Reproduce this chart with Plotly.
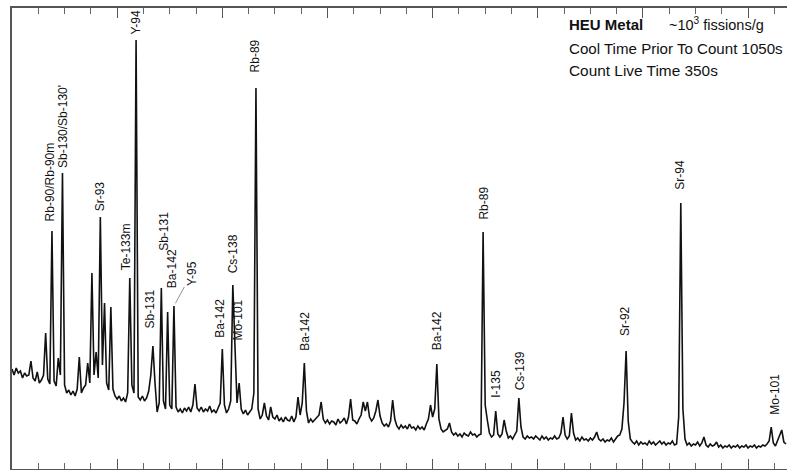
import numpy as np
import plotly.graph_objects as go

# Gamma-ray spectrum of HEU metal, 2 keV channels starting at 800 keV
start_kev = 800
channel_kev = 2
counts = [
    500, 470, 505, 480, 490, 455, 480, 465, 470, 540,
    455, 440, 485, 430, 445, 470, 680, 450, 425, 1190,
    440, 415, 555, 470, 1480, 420, 380, 395, 370, 390,
    365, 400, 560, 380, 405, 420, 530, 430, 980, 470,
    585, 455, 1260, 520, 830, 430, 395, 810, 400, 365,
    350, 365, 340, 355, 335, 380, 955, 420, 380, 2145,
    360, 345, 365, 340, 355, 390, 470, 615, 430, 285,
    330, 905, 340, 300, 785, 320, 300, 815, 310, 285,
    300, 280, 305, 290, 310, 285, 320, 425, 305, 290,
    310, 285, 300, 290, 315, 285, 295, 280, 305, 330,
    600, 320, 280, 300, 340, 920, 620, 330, 430, 300,
    275, 295, 270, 285, 300, 380, 1905, 300, 250, 270,
    330, 265, 245, 310, 260, 250, 270, 240, 255, 235,
    260, 245, 240, 265, 235, 260, 360, 270, 330, 530,
    290, 230, 250, 235, 245, 255, 270, 335, 250, 230,
    245, 225, 240, 235, 220, 250, 230, 240, 255, 225,
    260, 350, 245, 240, 225, 250, 270, 335, 290, 335,
    260, 240, 255, 290, 345, 265, 230, 215, 225, 210,
    240, 345, 250, 215, 200, 220, 205, 215, 200, 225,
    205, 210, 195, 215, 200, 210, 195, 225, 250, 320,
    260, 300, 525, 250, 200, 185, 195, 200, 230, 185,
    170, 180, 165, 175, 160, 180, 170, 165, 185, 170,
    175, 160, 170, 175, 1185, 320, 245, 180, 160, 170,
    290, 175, 160, 175, 245, 190, 155, 165, 150, 170,
    190, 355, 210, 160, 150, 165, 155, 160, 150, 165,
    155, 145, 165, 150, 160, 145, 155, 150, 165, 150,
    155, 180, 260, 170, 150, 165, 280, 180, 145, 155,
    140, 160, 145, 150, 140, 155, 145, 160, 185, 150,
    140, 150, 135, 145, 140, 155, 135, 150, 165, 170,
    200, 330, 590, 240, 150, 135, 125, 140, 120, 135,
    125, 130, 120, 140, 125, 135, 120, 130, 140, 125,
    135, 120, 130, 125, 140, 120, 125, 260, 1330, 300,
    150, 120, 130, 115, 125, 120, 135, 115, 130, 160,
    120, 110, 125, 115, 120, 135, 110, 120, 105, 115,
    110, 120, 105, 115, 110, 120, 105, 115, 110, 120,
    105, 115, 110, 120, 105, 115, 110, 120, 115, 125,
    140, 210, 130, 115, 140, 170, 195, 135, 125,
]
energies = start_kev + channel_kev * np.arange(len(counts))

# Identified peaks
peak_names = [
    "Rb-90/Rb-90m", "Sb-130/Sb-130'", "Sr-93", "Te-133m", "Y-94",
    "Sb-131", "Sb-131", "Ba-142", "Y-95", "Ba-142", "Cs-138", "Mo-101",
    "Rb-89", "Ba-142", "Ba-142", "Rb-89", "I-135", "Cs-139", "Sr-92",
    "Sr-94", "Mo-101",
]
peak_energies = [
    838, 848, 884, 912, 918, 934, 942, 948, 954, 1000, 1010, 1012,
    1032, 1078, 1204, 1248, 1260, 1282, 1384, 1436, 1522,
]

# Label placement: lift above the peak top and sideways nudge (px)
label_lift = [8, 3, 4, 6, 3, 16, 35, 22, 0, 9, 10, 3, 14, 10, 12, 10, 11, 6, 13, 11, 10]
label_dx = [-2, 0, 0, -4, -1, -3, 2, 4, 0, -3, 0, 3, -1, 0, 0, 0, 0, 1, -1, -1, 3]
leader_labels = {"Y-95": (18, -33)}

FONT = "Liberation Sans, Arial, sans-serif"
INK = "#111111"
FRAME = "#555555"

fig = go.Figure()
fig.add_trace(go.Scatter(
    x=energies, y=counts, mode="lines",
    line=dict(color=INK, width=1.6),
    hoverinfo="skip", showlegend=False,
))

annotations = []
for name, e, lift, dx in zip(peak_names, peak_energies, label_lift, label_dx):
    top = counts[(e - start_kev) // channel_kev]
    if name in leader_labels:
        ax, ay = leader_labels[name]
        annotations.append(dict(
            x=e, y=top, xref="x", yref="y", text=name, textangle=-90,
            showarrow=True, arrowhead=0, arrowwidth=0.8, arrowcolor="#777777",
            ax=ax, ay=ay, standoff=3,
            font=dict(family=FONT, size=12, color=INK),
        ))
    else:
        annotations.append(dict(
            x=e, y=top, xref="x", yref="y", text=name, textangle=-90,
            showarrow=False, xanchor="center", yanchor="bottom",
            yshift=lift, xshift=dx,
            font=dict(family=FONT, size=12, color=INK),
        ))

# Sample / counting information block
annotations += [
    dict(x=0.716, y=0.965, xref="paper", yref="paper", text="<b>HEU Metal</b>",
         showarrow=False, xanchor="left", yanchor="middle",
         font=dict(family=FONT, size=15, color=INK)),
    dict(x=0.845, y=0.965, xref="paper", yref="paper",
         text="~10<sup>3</sup> fissions/g",
         showarrow=False, xanchor="left", yanchor="middle",
         font=dict(family=FONT, size=14.5, color=INK)),
    dict(x=0.716, y=0.913, xref="paper", yref="paper",
         text="Cool Time Prior To Count 1050s",
         showarrow=False, xanchor="left", yanchor="middle",
         font=dict(family=FONT, size=15.1, color=INK)),
    dict(x=0.716, y=0.865, xref="paper", yref="paper",
         text="Count Live Time 350s",
         showarrow=False, xanchor="left", yanchor="middle",
         font=dict(family=FONT, size=15.4, color=INK)),
]

fig.update_layout(
    template="none",
    width=787, height=470,
    margin=dict(l=12, r=0, t=8, b=1),
    paper_bgcolor="white", plot_bgcolor="white",
    annotations=annotations,
    showlegend=False,
)
fig.update_xaxes(
    range=[800, 1537], showgrid=False, zeroline=False,
    showline=True, linecolor=FRAME, linewidth=1.5, mirror="ticks",
    ticks="inside", ticklen=10, tickwidth=1.3, tickcolor=FRAME,
    tick0=800, dtick=100, showticklabels=False, showspikes=False,
    minor=dict(ticks="inside", ticklen=6, tickwidth=1, tickcolor="#666666",
               tick0=800, dtick=25, showgrid=False),
)
fig.update_yaxes(
    range=[0, 2305], showgrid=False, zeroline=False,
    showline=True, linecolor=FRAME, linewidth=1.8, mirror=False,
    ticks="", showticklabels=False, showspikes=False,
)

fig.write_html("out.html")
